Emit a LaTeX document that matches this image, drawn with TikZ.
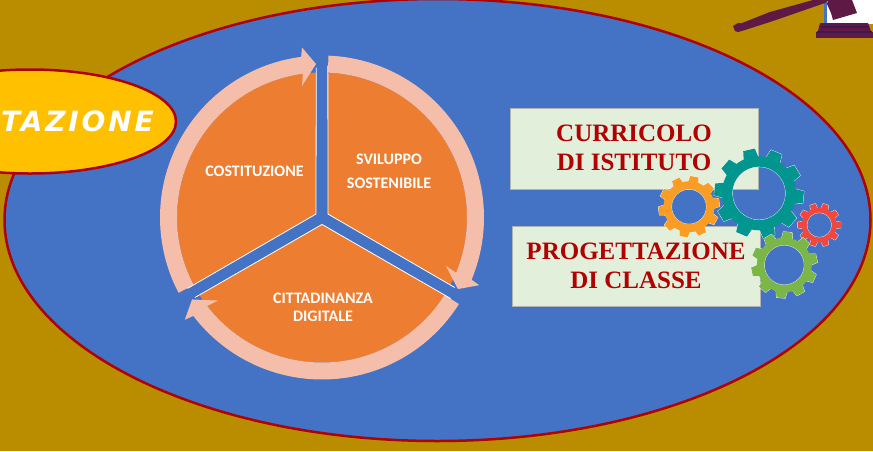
\documentclass[tikz,border=0pt]{standalone}
\usepackage{fontspec}
\setmainfont{Liberation Serif}
\newfontfamily\lblfont{Carlito}
\newfontfamily\titlefont[LetterSpace=10]{DejaVu Sans}
\definecolor{bgc}{HTML}{BA8C00}
\definecolor{blu}{HTML}{4472C4}
\definecolor{dred}{HTML}{B00000}
\definecolor{orng}{HTML}{ED7D31}
\definecolor{pale}{HTML}{F4BEAA}
\definecolor{yell}{HTML}{FFC000}
\definecolor{boxc}{HTML}{E2EFDA}
\definecolor{gavel}{HTML}{5E1A45}
\definecolor{gavelb}{HTML}{3A1A50}
\definecolor{gteal}{HTML}{00968F}
\definecolor{gorange}{HTML}{F99D25}
\definecolor{gred}{HTML}{F2473F}
\definecolor{ggreen}{HTML}{7AB648}
\newcommand\mygear[8]{% x,y,root,tip,hole,offset,colour,teeth
  \begin{scope}[shift={(#1,#2)}]
    \pgfmathsetmacro\tstep{360/#8}
    \pgfmathsetmacro\tw{\tstep*0.33}
    \pgfmathsetmacro\tv{\tstep*0.21}
    \foreach \k in {1,...,#8}{
      \pgfmathsetmacro\ang{#6+\k*\tstep}
      \draw[white,line width=0.7pt,line join=round] (\ang-\tw:#3-.5) -- (\ang-\tv:#4) -- (\ang+\tv:#4) -- (\ang+\tw:#3-.5);
    }
    \draw[white!85!gray,line width=0.8pt] (0,0) circle (#5);
    \foreach \k in {1,...,#8}{
      \pgfmathsetmacro\ang{#6+\k*\tstep}
      \fill[#7,line join=round] (\ang-\tw:#3-.5) -- (\ang-\tv:#4) -- (\ang+\tv:#4) -- (\ang+\tw:#3-.5) -- cycle;
    }
    \fill[#7,even odd rule] (0,0) circle (#3) (0,0) circle (#5);
  \end{scope}}
\tikzset{
  x=1pt,y=1pt,
  seclabel/.style={text=white,font=\lblfont\bfseries\fontsize{16}{18}\selectfont,inner sep=0pt,align=center},
  boxlabel/.style={text=dred,font=\bfseries\fontsize{25}{29}\selectfont,inner sep=0pt,align=center},
  panel/.style={fill=boxc,draw=gray!60,line width=0.5pt},
  edge/.style={white,line width=0.8pt}
}
\begin{document}
\begin{tikzpicture}
\useasboundingbox (0,-451) rectangle (873,0);
\clip (0,-451) rectangle (873,0);
\fill[bgc] (0,-451) rectangle (873,0);
% large ellipse
\draw[fill=blu,draw=dred,line width=2.5pt] (437.5,-220) ellipse [x radius=433,y radius=221];
% title ellipse
\draw[fill=yell,draw=dred,line width=2.5pt] (30,-121.5) ellipse [x radius=146,y radius=52];
\node[text=white,font=\titlefont\bfseries\itshape\fontsize{28}{30}\selectfont,anchor=west,inner sep=0pt] (title) at (1,-121) {TAZIONE};
% cycle
\begin{scope}[shift={(322,-217.5)}]
  \foreach \r in {0,120,240}{
    \begin{scope}[rotate=\r]
      \fill[orng] (150:6.93) -- (92.37:145) arc [start angle=92.37,end angle=207.63,radius=145] -- cycle;
      \fill[pale] (207.7:162) arc [start angle=207.7,end angle=97.4,radius=162] -- (-20,170) -- (-6,153.5) -- (-20,131.5) -- (97.6:145) arc [start angle=97.6,end angle=207.7,radius=145] -- cycle;
      \draw[edge] (92.2:150) -- (150:6.93) -- (207.8:152);
    \end{scope}
  }
\end{scope}
\node[seclabel] (cost) at (254.5,-171) {COSTITUZIONE};
\node[seclabel] (svil) at (389,-159) {SVILUPPO};
\node[seclabel] (sost) at (389,-183) {SOSTENIBILE};
\node[seclabel] (citt) at (323,-298) {CITTADINANZA};
\node[seclabel] (digi) at (323,-316) {DIGITALE};
% panels
\filldraw[panel] (510,-108) rectangle (758,-189);
\filldraw[panel] (512,-226) rectangle (760,-306);
\node[boxlabel] (cur) at (634,-133) {CURRICOLO};
\node[boxlabel] (ist) at (634,-162) {DI ISTITUTO};
\node[boxlabel] (pro) at (636,-251) {PROGETTAZIONE};
\node[boxlabel] (cla) at (636,-280) {DI CLASSE};
% gears
\mygear{759}{-193.3}{37}{45}{26.7}{-5}{gteal}{10}
\mygear{689}{-206.7}{25.5}{30.7}{17.5}{8}{gorange}{10}
\mygear{819.3}{-225}{17.5}{21.7}{12.5}{0}{gred}{10}
\mygear{784.3}{-265}{27.5}{33.3}{20}{12}{ggreen}{10}
% gavel
\fill[blu] (824,0) rectangle (828,-24);
\fill[white] (827,0) rectangle (873,-24);
\fill[gavel] (733,-26) -- (738,-23) -- (742,-23) -- (770,-12) -- (813,0) -- (829,0) -- (825,-3) -- (773,-21) -- (745,-30) -- (738,-32) -- (735,-31) -- cycle;
\fill[gavel] (828,0) -- (852,0) -- (857,-13) -- (833,-20) -- (831,-13) -- (827,-4) -- cycle;
\fill[gavel] (820,-23) -- (868,-23) -- (871,-31) -- (818,-31) -- cycle;
\fill[gavel] (816,-32) -- (873,-32) -- (873,-37.5) -- (816,-37.5) -- cycle;
\draw[gavelb,line width=1.2pt] (821,-27) -- (869,-27) (817,-32) -- (872,-32);
\end{tikzpicture}
\end{document}
